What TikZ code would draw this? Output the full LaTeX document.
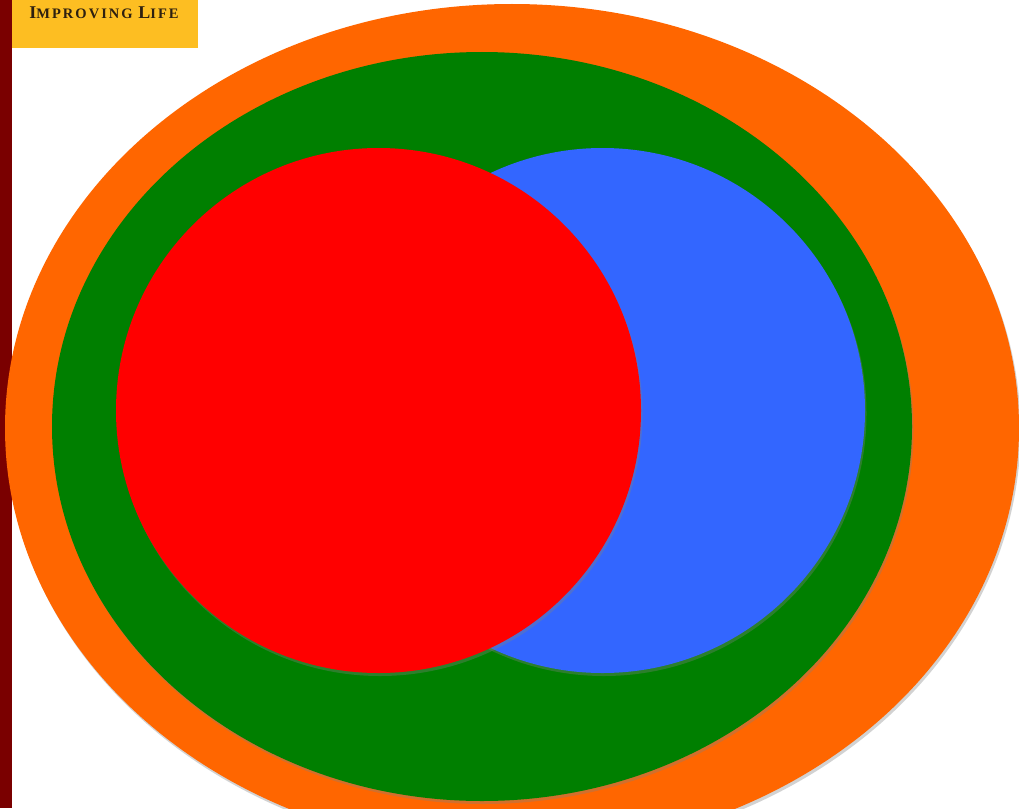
\documentclass[tikz,border=0pt]{standalone}
\usepackage{fontspec}
\setmainfont{Liberation Serif}
\newfontfamily\logofont[LetterSpace=14]{Liberation Serif}
\usetikzlibrary{shadows}
\definecolor{barred}{HTML}{7A0000}
\definecolor{boxyellow}{HTML}{FDBE22}
\definecolor{textbrown}{HTML}{2E2010}
\definecolor{orangeC}{HTML}{FF6600}
\definecolor{greenC}{HTML}{007F00}
\definecolor{redC}{HTML}{FF0000}
\definecolor{blueC}{HTML}{3366FF}
\tikzset{
  shade/.style={drop shadow={opacity=0.35, shadow xshift=1.5pt, shadow yshift=-3pt}},
  blob/.style={draw=none, shade},
}
\begin{document}
\begin{tikzpicture}[x=1pt,y=-1pt]
\useasboundingbox (0,0) rectangle (1019,808);
\clip (0,0) rectangle (1019,808);
\fill[white] (0,0) rectangle (1019,808);
\fill[barred] (0,0) rectangle (11.5,808);
\path[blob, fill=orangeC] (512,428) ellipse [x radius=507, y radius=424];
\path[blob, fill=greenC] (482,426.5) ellipse [x radius=430, y radius=374.5];
\path[blob, fill=blueC] (602.5,410.5) circle [radius=262.5];
\path[blob, fill=redC] (378.5,410.5) circle [radius=262.5];
\node[fill=boxyellow, minimum width=186, minimum height=48, anchor=north west, inner sep=0] (logo) at (11.5,0) {};
\node[text=textbrown, font=\logofont\bfseries, anchor=center, inner sep=0] (title) at (104,13)
  {\fontsize{18}{18}\selectfont I\fontsize{14.5}{15}\selectfont MPROVING \fontsize{18}{18}\selectfont L\fontsize{14.5}{15}\selectfont IFE};
\end{tikzpicture}
\end{document}
